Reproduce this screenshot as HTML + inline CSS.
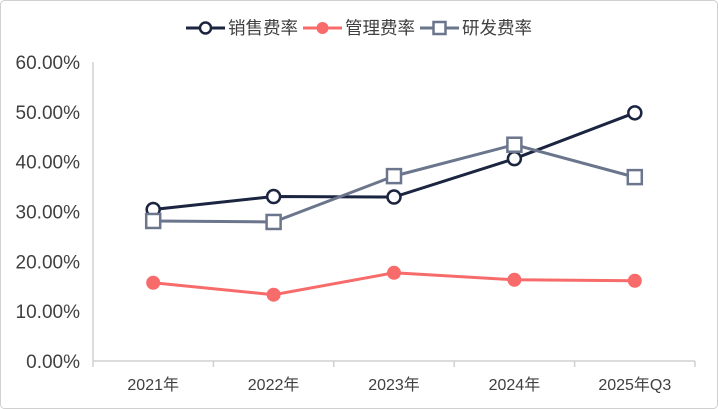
<!DOCTYPE html>
<html><head><meta charset="utf-8"><style>
html,body{margin:0;padding:0;background:#fff}
svg{display:block;font-family:"Liberation Sans","Noto Sans CJK SC",sans-serif}
</style></head><body>
<svg id="c" width="718" height="409">
<rect x="0.5" y="0.5" width="717" height="408" rx="4" fill="#fff" stroke="#d0d0d0"/>
</svg>
<script>
const categories=["2021年","2022年","2023年","2024年","2025年Q3"];
const sales=[30.4,33.0,32.9,40.6,49.8];
const admin=[15.7,13.3,17.7,16.3,16.1];
const rnd=[28.1,27.9,37.1,43.4,36.9];
const yTicks=[0,10,20,30,40,50,60];
const NS="http://www.w3.org/2000/svg";
const svg=document.getElementById('c');
const x0=93,x1=695,yb=361,yt=62;
const bw=(x1-x0)/categories.length;
const X=i=>x0+bw*(i+0.5);
const Y=v=>yb-(v/60)*(yb-yt);
function mk(t,a,p){const e=document.createElementNS(NS,t);for(const k in a)e.setAttribute(k,a[k]);(p||svg).appendChild(e);return e;}
yTicks.forEach(v=>{
 const t=mk('text',{x:80,y:Y(v)+7,'text-anchor':'end','font-size':19,fill:'#404040'});
 t.textContent=v.toFixed(2)+'%';
 
 
});
const ya=mk('line',{x1:x0,y1:yt,x2:x0,y2:yb,stroke:'#d0d0d0','stroke-width':1.5});


const xa=mk('line',{x1:x0,y1:yb,x2:x1,y2:yb,stroke:'#d0d0d0','stroke-width':1.5});


for(let i=0;i<=categories.length;i++){
 const tk=mk('line',{x1:x0+bw*i,y1:yb,x2:x0+bw*i,y2:yb+6,stroke:'#d0d0d0','stroke-width':1.5});
 
 
}
categories.forEach((c,i)=>{
 const t=mk('text',{x:X(i),y:390,'text-anchor':'middle','font-size':16,fill:'#404040'});
 t.textContent=c;
 
 
});
function series(vals,color,shape,name){
 const g=mk('g',{});
 
 
 const p=mk('polyline',{points:vals.map((v,i)=>X(i)+','+Y(v)).join(' '),fill:'none',stroke:color,'stroke-width':3},g);
 
 
 vals.forEach((v,i)=>{
  let m;
  if(shape==='o')m=mk('circle',{cx:X(i),cy:Y(v),r:6.5,fill:'#fff',stroke:color,'stroke-width':2.5},g);
  else if(shape==='dot')m=mk('circle',{cx:X(i),cy:Y(v),r:7,fill:color},g);
  else m=mk('rect',{x:X(i)-7,y:Y(v)-7,width:14,height:14,fill:'#fff',stroke:color,'stroke-width':2.5},g);
  
  
 });
}
series(admin,'#f86b6b','dot','admin-ratio');
series(sales,'#1b2540','o','sales-ratio');
series(rnd,'#6b768c','sq','rnd-ratio');
const leg=[['销售费率','#1b2540','o',186],['管理费率','#f86b6b','dot',303],['研发费率','#6b768c','sq',420]];
leg.forEach(([n,c,s,lx])=>{
 const g=mk('g',{});
 
 
 mk('line',{x1:lx,y1:28,x2:lx+39,y2:28,stroke:c,'stroke-width':3},g);
 if(s==='o')mk('circle',{cx:lx+19.5,cy:28,r:5.5,fill:'#fff',stroke:c,'stroke-width':2.5},g);
 else if(s==='dot')mk('circle',{cx:lx+19.5,cy:28,r:6,fill:c},g);
 else mk('rect',{x:lx+13.5,y:22,width:12,height:12,fill:'#fff',stroke:c,'stroke-width':2.5},g);
 const t=mk('text',{x:lx+42,y:34,'font-size':17.5,fill:'#404040'},g);
 t.textContent=n;
});
</script>
</body></html>
